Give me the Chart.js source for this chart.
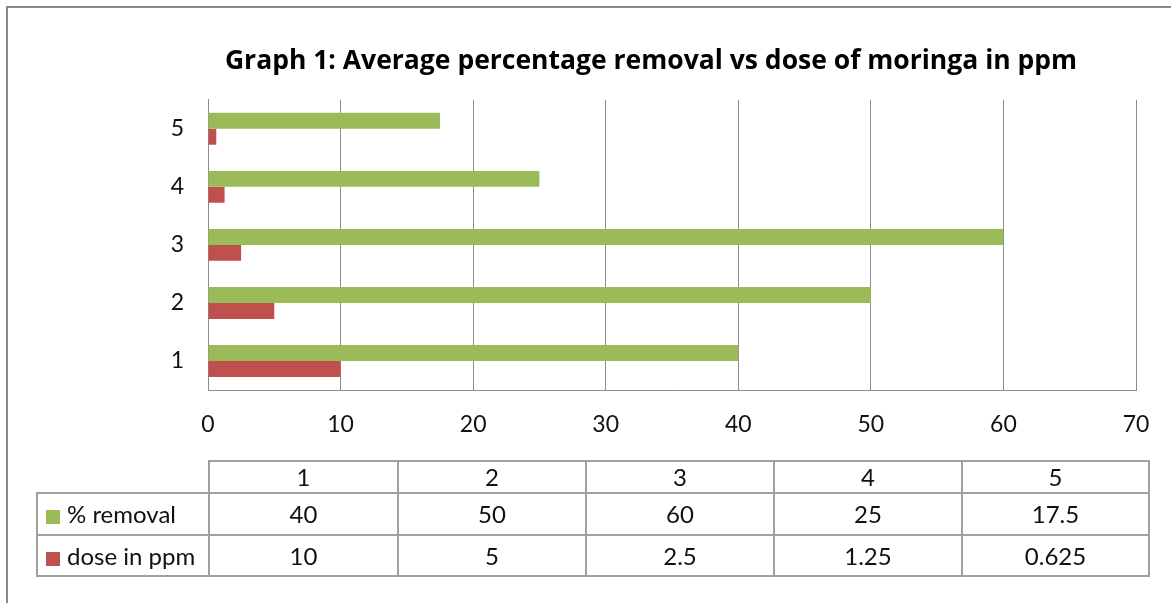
<!DOCTYPE html>
<html>
<head>
<meta charset="utf-8">
<script src="https://cdn.jsdelivr.net/npm/chart.js@4/dist/chart.umd.min.js"></script>
<style>
  html, body { margin: 0; padding: 0; background: #fff; }
  body { width: 1171px; height: 603px; position: relative; overflow: hidden; font-family: Lato, "Noto Sans", sans-serif; }
  #frame { position: absolute; left: 6px; top: 6px; width: 1200px; height: 700px; border: 2px solid #8a8a8a; box-sizing: border-box; }
  #wrap { position: absolute; left: 0; top: 0; width: 1171px; height: 603px; }
  #tbl { position: absolute; left: 36px; top: 460px; border-collapse: collapse; table-layout: fixed; font-size: 24px; color: #111; }
  #tbl td { border: 2px solid #a0a0a0; text-align: center; padding: 0; vertical-align: middle; line-height: 1; }
  #tbl td.blank { border-top: none; border-left: none; }
  #tbl td.lab { text-align: left; padding-left: 8px; white-space: nowrap; }
  .key { display: inline-block; width: 14px; height: 14px; margin-right: 7px; vertical-align: -1px; }
</style>
</head>
<body>
<div id="frame"></div>
<div id="wrap"><canvas id="c" width="1171" height="603"></canvas></div>
<table id="tbl"></table>
<script>
const categories = ['1', '2', '3', '4', '5'];
const removal = [40, 50, 60, 25, 17.5];
const dose = [10, 5, 2.5, 1.25, 0.625];
const doseLabels = ['10', '5', '2.5', '1.25', '0.625'];
const seriesNames = ['% removal', 'dose in ppm'];
const seriesColors = ['#9BBB59', '#C0504D'];
const xMin = 0, xMax = 70, xStep = 10;
const titleText = 'Graph 1: Average percentage removal vs dose of moringa in ppm';

const gridColor = '#8c8c8c';
const fontFam = 'Lato, "Noto Sans", sans-serif';

new Chart(document.getElementById('c'), {
  type: 'bar',
  data: {
    labels: categories,
    datasets: [
      { label: seriesNames[0], data: removal, backgroundColor: seriesColors[0], borderWidth: 0 },
      { label: seriesNames[1], data: dose, backgroundColor: seriesColors[1], borderWidth: 0 }
    ]
  },
  options: {
    indexAxis: 'y',
    responsive: false,
    animation: false,
    categoryPercentage: 0.55,
    barPercentage: 1.0,
    layout: { padding: { left: 166, right: 35, top: 0, bottom: 163 } },
    plugins: {
      legend: { display: false },
      tooltip: { enabled: false },
      title: {
        display: true,
        text: titleText,
        color: '#000',
        font: { family: '"Open Sans", Lato, sans-serif', size: 26.5, weight: 'bold' },
        padding: { top: 46, bottom: 22 }
      }
    },
    scales: {
      x: {
        min: xMin, max: xMax,
        ticks: { stepSize: xStep, color: '#111', font: { family: fontFam, size: 23 }, padding: 21, maxRotation: 0 },
        grid: { color: gridColor, drawTicks: false, lineWidth: 1 },
        border: { color: gridColor, width: 1 },
        afterFit: s => { s.height = 50; }
      },
      y: {
        reverse: true,
        ticks: { color: '#111', font: { family: fontFam, size: 23 }, padding: 24 },
        grid: { display: false, drawTicks: false },
        border: { color: gridColor, width: 1 },
        afterFit: s => { s.width = 42; }
      }
    }
  }
});

// data table
const tbl = document.getElementById('tbl');
const colW = [172, 189, 188, 188, 188, 187];
const cg = document.createElement('colgroup');
colW.forEach(w => { const c = document.createElement('col'); c.style.width = w + 'px'; cg.appendChild(c); });
tbl.appendChild(cg);
const rowH = [32, 42, 41];
function addRow(h, cells) {
  const tr = document.createElement('tr');
  tr.style.height = h + 'px';
  cells.forEach(c => tr.appendChild(c));
  tbl.appendChild(tr);
}
function cell(text, cls) {
  const td = document.createElement('td');
  if (cls) td.className = cls;
  td.textContent = text;
  return td;
}
addRow(rowH[0], [cell('', 'blank')].concat(categories.map(c => cell(c))));
const rows = [removal.map(String), doseLabels];
rows.forEach((vals, i) => {
  const lab = document.createElement('td');
  lab.className = 'lab';
  const k = document.createElement('span');
  k.className = 'key';
  k.style.background = seriesColors[i];
  lab.appendChild(k);
  lab.appendChild(document.createTextNode(seriesNames[i]));
  addRow(rowH[i + 1], [lab].concat(vals.map(v => cell(v))));
});
</script>
</body>
</html>
